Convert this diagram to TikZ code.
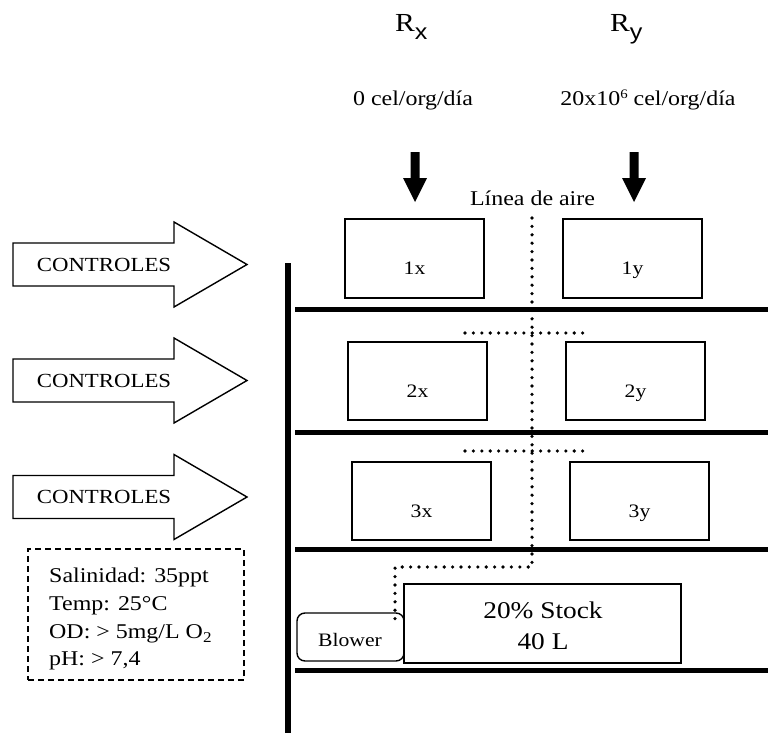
\documentclass[tikz,border=0pt]{standalone}
\usepackage{fontspec}
\setmainfont{Liberation Serif}[FakeStretch=1.14]
\newfontfamily\subsans{Liberation Sans}[FakeStretch=1.14]
\usetikzlibrary{calc}
\begin{document}
\begin{tikzpicture}[x=1pt,y=-1pt,
  shelf/.style={line width=5pt},
  post/.style={line width=5.5pt},
  tank/.style={draw, line width=1.4pt, minimum width=139pt, minimum height=78pt, inner sep=0pt},
  lbl/.style={inner sep=0pt, anchor=base, font=\fontsize{19}{22}\selectfont},
  txt/.style={inner sep=0pt, anchor=base, font=\fontsize{21}{25}\selectfont},
  head/.style={inner sep=0pt, anchor=base west, font=\fontsize{26}{30}\selectfont},
  air/.style={line width=3.6pt, line cap=round, dash pattern=on 0pt off 8.4pt},
  ctrl/.style={draw, line width=1.4pt, fill=white},
  down/.style={fill=black},
]
\useasboundingbox (0,0) rectangle (768,733);

% headings
\node[head] (rx) at (395,32) {R\raisebox{-8pt}{\subsans\fontsize{22}{24}\selectfont x}};
\node[head] (ry) at (610,32) {R\raisebox{-8pt}{\subsans\fontsize{22}{24}\selectfont y}};
\node[txt] (rxrate) at (413,106) {0 cel/org/día};
\node[txt] (ryrate) at (648,106) {20x10\raisebox{7.7pt}{\fontsize{13}{13}\selectfont 6} cel/org/día};

% feeding arrows
\fill[down] (410.5,152) -- (419.5,152) -- (419.5,178) -- (427,178) -- (415,202) -- (403,178) -- (410.5,178) -- cycle;
\fill[down] (629.5,152) -- (638.5,152) -- (638.5,178) -- (646,178) -- (634,202) -- (622,178) -- (629.5,178) -- cycle;

\node[txt] (aire) at (532.5,205) {Línea de aire};

% air line
\coordinate (a1) at (532,218);
\coordinate (a2) at (532,567);
\coordinate (a3) at (395,567);
\coordinate (a4) at (395,622);
\draw[air] (a1) -- (a2) -- (a3) -- (a4);
\draw[air] (465,333) -- (583,333);
\draw[air] (465,451) -- (583,451);

% rack
\draw[post] (288,263) -- (288,733);
\foreach \y in {309,432,549,670}{
  \draw[shelf] (295,\y) -- (768,\y);
}

% tanks
\node[tank, minimum height=79pt] (t1x) at (414.5,258.5) {};
\node[tank, minimum height=79pt] (t1y) at (632.5,258.5) {};
\node[tank] (t2x) at (417.5,381) {};
\node[tank] (t2y) at (635.5,381) {};
\node[tank] (t3x) at (421.5,501) {};
\node[tank] (t3y) at (639.5,501) {};
\node[lbl] (l1x) at (414.5,274) {1x};
\node[lbl] (l1y) at (632.5,274) {1y};
\node[lbl] (l2x) at (417.5,397) {2x};
\node[lbl] (l2y) at (635.5,397) {2y};
\node[lbl] (l3x) at (421.5,517) {3x};
\node[lbl] (l3y) at (639.5,517) {3y};

% stock and blower
\node[draw, line width=1.4pt, minimum width=277pt, minimum height=79pt, inner sep=0pt] (stock) at (542.5,623.5) {};
\node[inner sep=0pt, anchor=base, font=\fontsize{24}{28}\selectfont] (stock1) at (543,618) {20\% Stock};
\node[inner sep=0pt, anchor=base, font=\fontsize{24}{28}\selectfont] (stock2) at (543,649) {40 L};
\node[draw, line width=1.4pt, rounded corners=8pt, minimum width=107pt, minimum height=48pt, inner sep=0pt] (blower) at (350.5,637) {};
\node[lbl] (blowertxt) at (350,646) {Blower};

% controls arrows
\foreach \i/\cy in {1/264.5,2/380.5,3/497}{
  \draw[ctrl] (13,\cy-21.5) -- (174,\cy-21.5) -- (174,\cy-42.5) -- (247,\cy) -- (174,\cy+42.5) -- (174,\cy+21.5) -- (13,\cy+21.5) -- cycle;
  \node[txt, font=\fontsize{20}{24}\selectfont] (ctrl\i) at (104,\cy+6.5) {CONTROLES};
}

% conditions box
\node[draw, line width=1.4pt, dash pattern=on 6pt off 4pt, minimum width=216pt, minimum height=131pt, inner sep=0pt] (cond) at (136,614.5) {};
\node[txt, anchor=base west] (c1) at (49,582) {Salinidad: 35ppt};
\node[txt, anchor=base west] (c2) at (49,610) {Temp: 25°C};
\node[txt, anchor=base west] (c3) at (49,638.5) {OD: > 5mg/L O\raisebox{-3.5pt}{\fontsize{15}{15}\selectfont 2}};
\node[txt, anchor=base west] (c4) at (49,665) {pH: > 7,4};
\end{tikzpicture}
\end{document}
